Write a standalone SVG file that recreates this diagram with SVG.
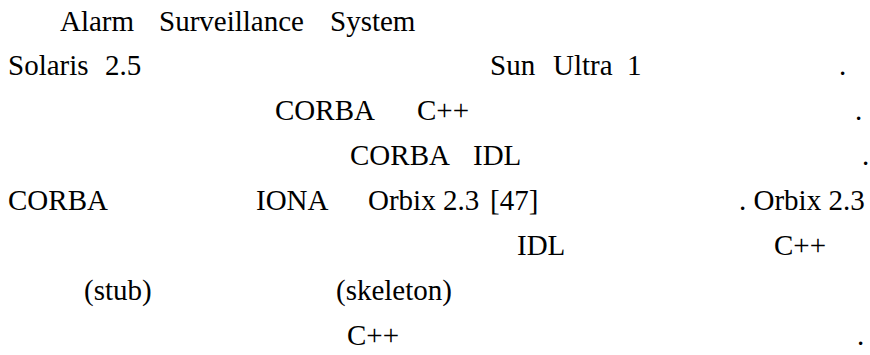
<svg xmlns="http://www.w3.org/2000/svg" width="870" height="355" viewBox="0 0 870 355">
<rect width="870" height="355" fill="#ffffff"/>
<g font-family="Liberation Serif, Tinos, Times New Roman, serif" font-size="29" fill="#000000">
<g id="line1">
<text x="60" y="31">Alarm</text>
<text x="159" y="31">Surveillance</text>
<text x="330" y="31">System</text>
</g>
<g id="line2">
<text x="8" y="75">Solaris</text>
<text x="105" y="75">2.5</text>
<text x="490" y="75">Sun</text>
<text x="553" y="75">Ultra</text>
<text x="627" y="75">1</text>
<text x="839" y="75">.</text>
</g>
<g id="line3">
<text x="275" y="120">CORBA</text>
<text x="417" y="120">C++</text>
<text x="855" y="120">.</text>
</g>
<g id="line4">
<text x="350" y="165">CORBA</text>
<text x="473" y="165">IDL</text>
<text x="862" y="165">.</text>
</g>
<g id="line5">
<text x="8" y="210">CORBA</text>
<text x="256" y="210">IONA</text>
<text x="368" y="210">Orbix</text>
<text x="443" y="210">2.3</text>
<text x="490" y="210">[47]</text>
<text x="739" y="210">. Orbix 2.3</text>
</g>
<g id="line6">
<text x="517" y="255">IDL</text>
<text x="774" y="255">C++</text>
</g>
<g id="line7">
<text x="84" y="300">(stub)</text>
<text x="336" y="300">(skeleton)</text>
</g>
<g id="line8">
<text x="347" y="345">C++</text>
<text x="857" y="345">.</text>
</g>
</g>
</svg>
